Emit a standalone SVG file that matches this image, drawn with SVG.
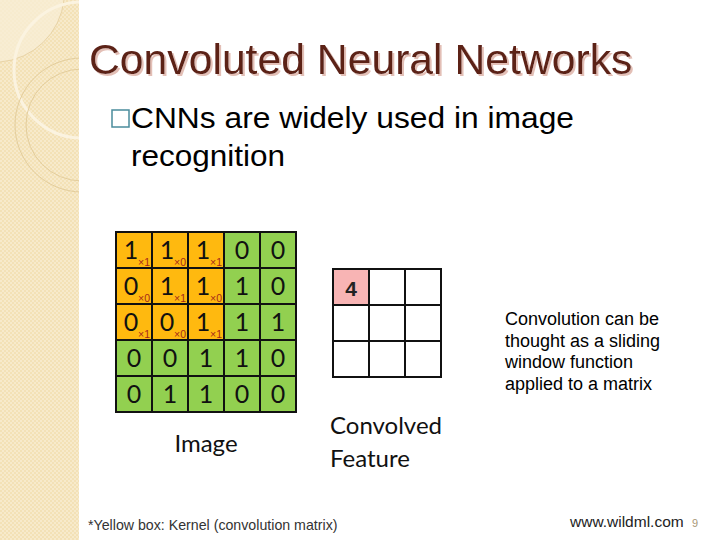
<svg xmlns="http://www.w3.org/2000/svg" width="720" height="540" viewBox="0 0 720 540">
<style>
.d{font-family:Lato,"Open Sans",sans-serif;font-size:25px;fill:#111;text-anchor:middle}
.s{font-family:"Liberation Sans",Arial,sans-serif;font-size:10.5px;fill:#a52a1a}
.lbl{font-family:Lato,"Open Sans",sans-serif;font-size:24px;fill:#111}
.body{font-family:"Liberation Sans",Arial,sans-serif;fill:#000}
.k{fill:#FFB90F;stroke:#111;stroke-width:2}
.g{fill:#92D050;stroke:#111;stroke-width:2}
.w{fill:#fff;stroke:#111;stroke-width:2}
</style>
<defs>
<pattern id="chk" width="4" height="4" patternUnits="userSpaceOnUse">
<rect width="4" height="4" fill="#F3E1B6"/>
<rect width="2" height="2" fill="#F7EACB"/>
<rect x="2" y="2" width="2" height="2" fill="#F7EACB"/>
</pattern>
<clipPath id="band"><rect x="0" y="0" width="79" height="540"/></clipPath>
<filter id="sh" x="-5%" y="-20%" width="110%" height="150%">
<feDropShadow dx="2" dy="2" stdDeviation="0.6" flood-color="#E0B8AE" flood-opacity="0.9"/>
</filter>
</defs>
<rect width="720" height="540" fill="#fff"/>
<g id="band-bg">
<rect x="0" y="0" width="79" height="540" fill="url(#chk)"/>
<g clip-path="url(#band)">
<path d="M0 0 H64 A70 70 0 0 1 0 62 Z" fill="#F8EDD5" opacity="0.8"/>
<path d="M0 62 A70 70 0 0 0 64 0" fill="none" stroke="#E8D3A6" stroke-width="1"/>
<circle cx="82" cy="70" r="68" fill="none" stroke="#FBF3E0" stroke-width="3"/>
<circle cx="82" cy="125" r="67" fill="none" stroke="#E3CD9C" stroke-width="1"/>
<circle cx="82" cy="125" r="56" fill="none" stroke="#E3CD9C" stroke-width="1"/>
</g>
</g>
<g id="title">
<text x="89" y="74" font-family="Liberation Sans,Arial,sans-serif" font-size="42.7" fill="#5B2119" filter="url(#sh)">Convoluted Neural Networks</text>
</g>
<g id="bullet">
<rect x="112" y="110" width="17" height="17" fill="none" stroke="#4A8C9C" stroke-width="1.5"/>
<text x="131" y="128" class="body" font-size="29" textLength="443" lengthAdjust="spacingAndGlyphs">CNNs are widely used in image</text>
<text x="131" y="166" class="body" font-size="29" textLength="154" lengthAdjust="spacingAndGlyphs">recognition</text>
</g>
<g id="image-grid">
<rect class="k" x="116" y="232" width="36" height="36"/>
<rect class="k" x="152" y="232" width="36" height="36"/>
<rect class="k" x="188" y="232" width="36" height="36"/>
<rect class="g" x="224" y="232" width="36" height="36"/>
<rect class="g" x="260" y="232" width="36" height="36"/>
<rect class="k" x="116" y="268" width="36" height="36"/>
<rect class="k" x="152" y="268" width="36" height="36"/>
<rect class="k" x="188" y="268" width="36" height="36"/>
<rect class="g" x="224" y="268" width="36" height="36"/>
<rect class="g" x="260" y="268" width="36" height="36"/>
<rect class="k" x="116" y="304" width="36" height="36"/>
<rect class="k" x="152" y="304" width="36" height="36"/>
<rect class="k" x="188" y="304" width="36" height="36"/>
<rect class="g" x="224" y="304" width="36" height="36"/>
<rect class="g" x="260" y="304" width="36" height="36"/>
<rect class="g" x="116" y="340" width="36" height="36"/>
<rect class="g" x="152" y="340" width="36" height="36"/>
<rect class="g" x="188" y="340" width="36" height="36"/>
<rect class="g" x="224" y="340" width="36" height="36"/>
<rect class="g" x="260" y="340" width="36" height="36"/>
<rect class="g" x="116" y="376" width="36" height="36"/>
<rect class="g" x="152" y="376" width="36" height="36"/>
<rect class="g" x="188" y="376" width="36" height="36"/>
<rect class="g" x="224" y="376" width="36" height="36"/>
<rect class="g" x="260" y="376" width="36" height="36"/>
<text class="d" x="131" y="259">1</text><text class="s" x="138" y="266">×1</text>
<text class="d" x="167" y="259">1</text><text class="s" x="174" y="266">×0</text>
<text class="d" x="203" y="259">1</text><text class="s" x="210" y="266">×1</text>
<text class="d" x="242" y="259">0</text>
<text class="d" x="278" y="259">0</text>
<text class="d" x="131" y="295">0</text><text class="s" x="138" y="302">×0</text>
<text class="d" x="167" y="295">1</text><text class="s" x="174" y="302">×1</text>
<text class="d" x="203" y="295">1</text><text class="s" x="210" y="302">×0</text>
<text class="d" x="242" y="295">1</text>
<text class="d" x="278" y="295">0</text>
<text class="d" x="131" y="331">0</text><text class="s" x="138" y="338">×1</text>
<text class="d" x="167" y="331">0</text><text class="s" x="174" y="338">×0</text>
<text class="d" x="203" y="331">1</text><text class="s" x="210" y="338">×1</text>
<text class="d" x="242" y="331">1</text>
<text class="d" x="278" y="331">1</text>
<text class="d" x="134" y="367">0</text>
<text class="d" x="170" y="367">0</text>
<text class="d" x="206" y="367">1</text>
<text class="d" x="242" y="367">1</text>
<text class="d" x="278" y="367">0</text>
<text class="d" x="134" y="403">0</text>
<text class="d" x="170" y="403">1</text>
<text class="d" x="206" y="403">1</text>
<text class="d" x="242" y="403">0</text>
<text class="d" x="278" y="403">0</text>
</g>
<g id="feature-grid">
<rect x="333" y="269" width="36" height="36" fill="#F8B4B4" stroke="#111" stroke-width="2"/>
<rect class="w" x="369" y="269" width="36" height="36"/>
<rect class="w" x="405" y="269" width="36" height="36"/>
<rect class="w" x="333" y="305" width="36" height="36"/>
<rect class="w" x="369" y="305" width="36" height="36"/>
<rect class="w" x="405" y="305" width="36" height="36"/>
<rect class="w" x="333" y="341" width="36" height="36"/>
<rect class="w" x="369" y="341" width="36" height="36"/>
<rect class="w" x="405" y="341" width="36" height="36"/>
<text x="351" y="296" font-family="Liberation Sans,Arial,sans-serif" font-size="21" font-weight="bold" fill="#222" text-anchor="middle">4</text>
</g>
<g id="labels">
<text class="lbl" x="206" y="452" text-anchor="middle" font-size="25.5">Image</text>
<text class="lbl" x="330" y="434">Convolved</text>
<text class="lbl" x="330" y="467">Feature</text>
</g>
<g id="note" class="body" font-size="18">
<text x="505" y="325">Convolution can be</text>
<text x="505" y="347">thought as a sliding</text>
<text x="505" y="368">window function</text>
<text x="505" y="390">applied to a matrix</text>
</g>
<g id="footer">
<text x="88" y="530" font-family="Liberation Sans,Arial,sans-serif" font-size="14.2" fill="#333">*Yellow box: Kernel (convolution matrix)</text>
<text x="570" y="527" font-family="Liberation Sans,Arial,sans-serif" font-size="15.5" fill="#222">www.wildml.com</text>
<text x="692" y="527" font-family="Liberation Sans,Arial,sans-serif" font-size="11" fill="#A89878">9</text>
</g>
<g id="connectors"/>
</svg>
